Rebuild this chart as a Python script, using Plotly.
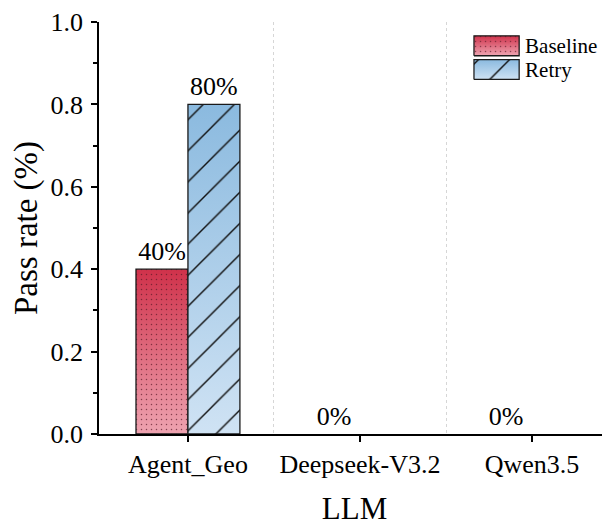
import plotly.graph_objects as go

categories = ["Agent_Geo", "Deepseek-V3.2", "Qwen3.5"]
baseline = [0.4, 0.0, 0.0]
retry = [0.8, None, None]
baseline_labels = ["40%", "0%", "0%"]
retry_labels = ["80%", "", ""]
y_ticks = [0.0, 0.2, 0.4, 0.6, 0.8, 1.0]
legend_names = ["Retry", "Baseline"]  # bottom to top in the legend box

FONT = "Liberation Serif, Times New Roman, serif"
BAR_W = 0.302
SW_H = 0.84  # legend swatch height (in legend-axis units)
x_idx = list(range(len(categories)))

series = [
    dict(name="Baseline", vals=baseline, labels=baseline_labels, offset=-BAR_W,
         top="#d0334c", bottom="#efa6b3", shape=".", psize=5, solid=0.07,
         fg="#5a1a28", fgop=0.7),
    dict(name="Retry", vals=retry, labels=retry_labels, offset=0.0,
         top="#8bbadf", bottom="#d0e3f4", shape="/", psize=22, solid=0.065,
         fg="#111111", fgop=1.0),
]

fig = go.Figure()

def styled_rect(x0, x1, y0, y1, s, xa="x", ya="y"):
    xs = [x0, x1, x1, x0, x0]
    ys = [y0, y0, y1, y1, y0]
    # gradient fill
    fig.add_trace(go.Scatter(
        x=xs, y=ys, xaxis=xa, yaxis=ya,
        mode="lines", line=dict(width=0), fill="toself",
        fillgradient=dict(type="vertical", start=y0, stop=y1,
                          colorscale=[[0, s["bottom"]], [1, s["top"]]]),
        hoverinfo="skip", showlegend=False))
    # pattern overlay + outline
    fig.add_trace(go.Scatter(
        x=xs, y=ys, xaxis=xa, yaxis=ya,
        mode="lines", line=dict(width=1.3, color="#1a1a1a"), fill="toself",
        fillcolor="rgba(0,0,0,0)",
        fillpattern=dict(shape=s["shape"], size=s["psize"], solidity=s["solid"],
                         fgcolor=s["fg"], fgopacity=s["fgop"],
                         bgcolor="rgba(0,0,0,0)", fillmode="replace"),
        hoverinfo="skip", showlegend=False))

# bars (gradient + pattern), derived from the data values
for s in series:
    for xi, v in zip(x_idx, s["vals"]):
        if v is None or v <= 0:
            continue
        x0 = xi + s["offset"]
        styled_rect(x0, x0 + BAR_W, 0, v, s)

# value labels via invisible bars
for s in series:
    fig.add_trace(go.Bar(
        x=x_idx, y=s["vals"], width=BAR_W, offset=s["offset"], name=s["name"],
        text=s["labels"], textposition="outside", cliponaxis=False,
        textfont=dict(family=FONT, size=26, color="black"),
        marker=dict(color="rgba(0,0,0,0)", line=dict(width=0)),
        showlegend=False, hoverinfo="skip"))

# legend drawn on a small auxiliary axis so swatches get gradient + pattern
by_name = {s["name"]: s for s in series}
for li, nm in enumerate(legend_names):
    styled_rect(0, 1, li - SW_H / 2, li + SW_H / 2, by_name[nm], "x2", "y2")

fig.update_layout(
    width=602, height=518,
    margin=dict(l=91, r=0, t=10, b=92),
    paper_bgcolor="white", plot_bgcolor="white",
    barmode="overlay", showlegend=False,
    font=dict(family=FONT, color="black"),
    xaxis=dict(
        range=[-0.517, 2.453], tickmode="array", tickvals=x_idx, ticktext=categories,
        showline=True, linecolor="black", linewidth=1.5, mirror=False,
        ticks="outside", ticklen=6, tickwidth=1.5, tickcolor="black",
        tickfont=dict(family=FONT, size=26), showgrid=False, zeroline=False,
        minor=dict(tickmode="array", tickvals=[0.5, 1.5], showgrid=True, ticks="",
                   gridcolor="#d6d6d6", griddash="dot", gridwidth=1),
        title=dict(text="LLM", font=dict(family=FONT, size=31), standoff=19),
    ),
    yaxis=dict(
        range=[0, 1.0], tickmode="array", tickvals=y_ticks, tickformat=".1f",
        showline=True, linecolor="black", linewidth=1.5,
        ticks="outside", ticklen=6, tickwidth=1.5, tickcolor="black",
        ticklabelstandoff=3, ticklabeloverflow="allow",
        tickfont=dict(family=FONT, size=26), showgrid=False, zeroline=False,
        minor=dict(dtick=0.1, tick0=0, ticks="outside", ticklen=4, tickwidth=1.5,
                   tickcolor="black", showgrid=False),
        title=dict(text="Pass rate (%)", font=dict(family=FONT, size=33), standoff=6),
    ),
    xaxis2=dict(domain=[0.732, 0.824], range=[-0.02, 1.02], anchor="y2",
                visible=False, fixedrange=True),
    yaxis2=dict(domain=[0.856, 0.971], range=[-0.5, 1.5], anchor="x2", side="right",
                tickmode="array", tickvals=list(range(len(legend_names))),
                ticktext=legend_names, ticks="", showline=False, showgrid=False,
                zeroline=False, ticklabelstandoff=4,
                tickfont=dict(family=FONT, size=21), fixedrange=True),
)

fig.write_html("out.html")
